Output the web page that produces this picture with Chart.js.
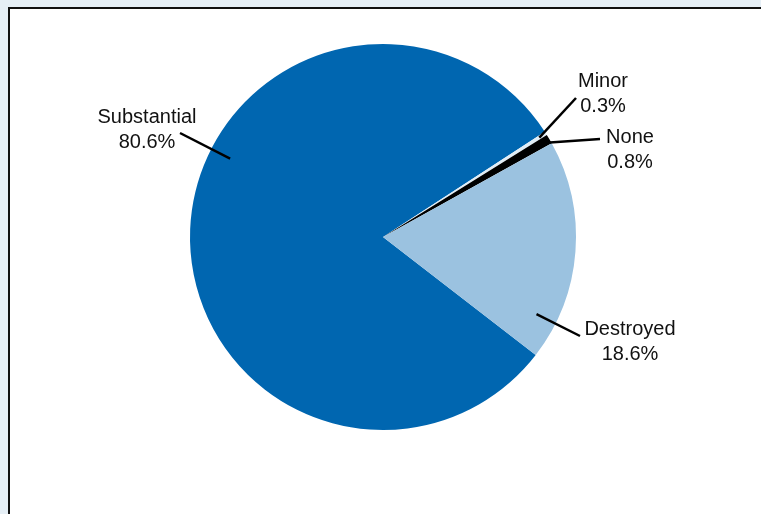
<!DOCTYPE html>
<html>
<head>
<meta charset="utf-8">
<script src="https://cdn.jsdelivr.net/npm/chart.js@4"></script>
<style>
    html, body { margin: 0; padding: 0; }
    body { width: 761px; height: 514px; background: #e6eff6; position: relative; overflow: hidden; }
    #panel {
        position: absolute; left: 8px; top: 7px; width: 800px; height: 600px;
        background: #ffffff; border-left: 2px solid #111; border-top: 2px solid #111;
    }
    #wrap { position: absolute; left: 0; top: 0; width: 761px; height: 514px; }
</style>
</head>
<body>
<div id="panel"></div>
<div id="wrap"><canvas id="myChart" width="761" height="514"></canvas></div>
<script>
const categories = ['Substantial', 'Minor', 'None', 'Destroyed'];
const shares = [80.6, 0.3, 0.8, 18.6];
const shareLabels = ['80.6%', '0.3%', '0.8%', '18.6%'];
const colors = ['#0066b0', '#e1edf6', '#000000', '#9bc2e0'];

// where each label sits (text centre x, first baseline y) and where its leader line starts
const labelSpots = [
    { x: 147, y: 123, lx: 180, ly: 133 },
    { x: 603, y: 87, lx: 576, ly: 98 },
    { x: 630, y: 143, lx: 600, ly: 139 },
    { x: 630, y: 335, lx: 580, ly: 336 }
];

const labelPlugin = {
    id: 'pieLabels',
    afterDraw(chart) {
        const ctx = chart.ctx;
        const arcs = chart.getDatasetMeta(0).data;
        ctx.save();
        ctx.font = '20px "Liberation Sans", Arial, sans-serif';
        ctx.fillStyle = '#111';
        ctx.textAlign = 'center';
        ctx.textBaseline = 'alphabetic';
        ctx.strokeStyle = '#000';
        ctx.lineWidth = 2.5;
        arcs.forEach((arc, i) => {
            const spot = labelSpots[i];
            const p = arc.getProps(['x', 'y', 'startAngle', 'endAngle', 'outerRadius'], true);
            const span = p.endAngle - p.startAngle;
            let ang, r;
            if (span < 0.1) {
                // thin slices: point at the middle of the wedge, near the rim
                ang = (p.startAngle + p.endAngle) / 2;
                r = p.outerRadius * 0.96;
            } else {
                ang = Math.atan2(spot.ly - p.y, spot.lx - p.x);
                while (ang < p.startAngle) ang += Math.PI * 2;
                while (ang > p.endAngle) ang -= Math.PI * 2;
                r = p.outerRadius * 0.89;
            }
            ctx.beginPath();
            ctx.moveTo(spot.lx, spot.ly);
            ctx.lineTo(p.x + Math.cos(ang) * r, p.y + Math.sin(ang) * r);
            ctx.stroke();
            ctx.fillText(categories[i], spot.x, spot.y);
            ctx.fillText(shareLabels[i], spot.x, spot.y + 24.5);
        });
        ctx.restore();
    }
};

document.addEventListener('DOMContentLoaded', () => {
    let pie = document.getElementById('myChart').getContext('2d');
    let myChart = new Chart(pie, {
        type: 'pie',
        data: {
            labels: categories,
            datasets: [
                {
                    data: shares,
                    backgroundColor: colors,
                    borderWidth: 0,
                    hoverOffset: 0
                }
            ]
        },
        options: {
            responsive: false,
            animation: false,
            events: [],
            rotation: 127.7,
            layout: {
                padding: { left: 190, right: 185, top: 44, bottom: 84 }
            },
            plugins: {
                legend: { display: false },
                tooltip: { enabled: false }
            }
        },
        plugins: [labelPlugin]
    });
});
</script>
</body>
</html>
